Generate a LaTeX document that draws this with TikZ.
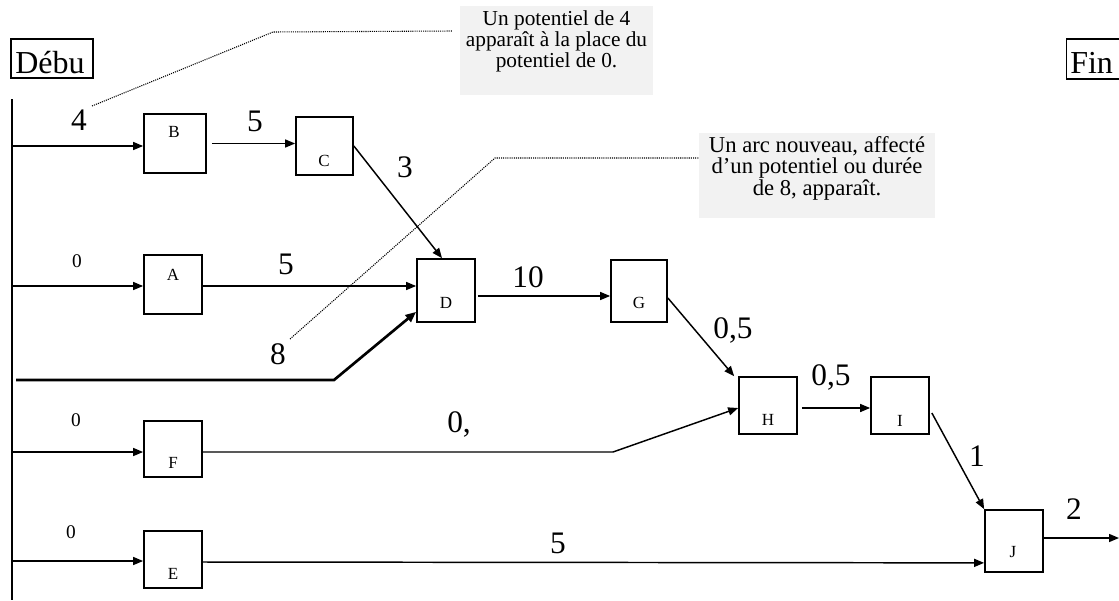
\documentclass[tikz,border=0pt]{standalone}
\usepackage{fontspec}
\setmainfont{Liberation Serif}
\usetikzlibrary{arrows.meta,calc}
\definecolor{notegray}{HTML}{F2F2F2}
\begin{document}
\begin{tikzpicture}[x=0.75pt,y=-0.75pt,
  box/.style={draw, line width=1.3pt, inner sep=0pt, minimum width=43.5pt, minimum height=44pt},
  tag/.style={anchor=base, inner sep=0pt, font=\fontsize{12.75}{14}\selectfont},
  big/.style={anchor=base, inner sep=0pt, font=\fontsize{23.5}{26}\selectfont},
  small/.style={anchor=base, inner sep=0pt, font=\fontsize{14.5}{16}\selectfont},
  arr/.style={line width=1.1pt, -{Triangle[length=7.5pt,width=6pt]}},
  thickarr/.style={line width=2pt, -{Triangle[length=8pt,width=6.5pt]}},
  leader/.style={line width=0.8pt, dash pattern=on 0.8pt off 0.8pt},
  note/.style={fill=notegray, inner sep=0pt},
  notetext/.style={anchor=north, inner sep=0pt, align=center},
  endbox/.style={draw, line width=1.1pt, inner sep=0pt},
  endtext/.style={anchor=base west, inner sep=0pt, font=\fontsize{24}{26}\selectfont}
]
\clip (0,0) rectangle (1119,600);

% start and end markers
\node[endbox, minimum width=61.5pt, minimum height=29.25pt] (start) at (52,58.5) {};
\node[endtext] (starttext) at (15,73) {Débu};
\node[endbox, minimum width=40pt, minimum height=30pt] (finish) at (1093,59) {};
\node[endtext] (finishtext) at (1070,73) {Fin};

% vertical origin rail
\coordinate (railtop) at (12,99);
\coordinate (railbot) at (12,600);
\draw[line width=1.3pt] (railtop) -- (railbot);

% task boxes
\node[box, minimum width=46.5pt, minimum height=44.25pt] (B) at (175,143.5) {};
\node[box, minimum width=42.75pt, minimum height=43.5pt] (C) at (324.5,146) {};
\node[box, minimum width=43.5pt, minimum height=44.25pt] (A) at (173,284.5) {};
\node[box, minimum width=43.5pt, minimum height=47.25pt] (D) at (446,290.5) {};
\node[box, minimum width=42pt, minimum height=46.5pt] (G) at (639,291) {};
\node[box, minimum width=43.5pt, minimum height=42.75pt] (H) at (768,405.5) {};
\node[box, minimum width=43.5pt, minimum height=42.75pt] (I) at (900,405.5) {};
\node[box, minimum width=43.5pt, minimum height=46.5pt] (J) at (1014,541) {};
\node[box, minimum width=43.5pt, minimum height=42pt] (F) at (173,449) {};
\node[box, minimum width=43.5pt, minimum height=42.75pt] (E) at (173,559.5) {};

% task letters
\node[tag] (Bt) at (174,137) {B};
\node[tag] (Ct) at (324,166) {C};
\node[tag] (At) at (173,280) {A};
\node[tag] (Dt) at (446,308) {D};
\node[tag] (Gt) at (639,308) {G};
\node[tag] (Ht) at (768,425) {H};
\node[tag] (It) at (900,426) {I};
\node[tag] (Jt) at (1013,557) {J};
\node[tag] (Ft) at (173,468) {F};
\node[tag] (Et) at (173,579) {E};

% arcs from the rail
\coordinate (railB) at (12,146);
\coordinate (railA) at (12,286);
\coordinate (railF) at (12,452);
\coordinate (railE) at (12,561);
\draw[arr] (railB) -- (B.west |- railB);
\draw[arr] (railA) -- (A.west |- railA);
\draw[arr] (railF) -- (F.west |- railF);
\draw[arr] (railE) -- (E.west |- railE);

% arcs between tasks
\draw[arr] ($(B.east)+(5,0)$) -- (C.west |- B.east);
\draw[arr] (C.east) -- ($(D.north)+(-4,0)$);
\draw[arr] (A.east |- railA) -- (D.west |- railA);
\draw[arr] ($(D.east)+(2,5.5)$) -- ($(G.west)+(0,5)$);
\draw[arr] ($(G.east)+(0,7)$) -- ($(H.north west)+(-4,0)$);
\coordinate (fbend) at (613,452);
\draw[arr] (F.east |- railF) -- (fbend) -- ($(H.west)+(0,2.5)$);
\draw[arr] ($(H.east)+(4,2.5)$) -- ($(I.west)+(0,2.5)$);
\draw[arr] ($(I.east)+(2,7.5)$) -- (J.north west);
\coordinate (out) at (1119,538);
\draw[arr] (J.east |- out) -- (out);
\draw[arr] ($(E.east)+(0,2.5)$) -- ($(J.south west)+(0,-10)$);

% the new arc of duration 8
\coordinate (newstart) at (16,380);
\coordinate (newbend) at (334,380);
\draw[thickarr] (newstart) -- (newbend) -- ($(D.south west)+(0,-11)$);

% durations
\node[big] (l4) at (79,130) {4};
\node[big] (lBC) at (255,131) {5};
\node[big] (lCD) at (405,177) {3};
\node[big] (lAD) at (286,274) {5};
\node[big] (lDG) at (528,287) {10};
\node[big] (l8) at (278,364) {8};
\node[big] (lGH) at (733,338) {0,5};
\node[big] (lHI) at (831,385) {0,5};
\node[big] (lIJ) at (977,466) {1};
\node[big] (lJ) at (1074,519) {2};
\node[big] (lFH) at (459,432) {0,};
\node[big] (lEJ) at (558,553) {5};
\node[small] (l0A) at (77,267) {0};
\node[small] (l0F) at (76,426) {0};
\node[small] (l0E) at (71,538) {0};

% notes and their dotted leaders
\node[note, minimum width=144.75pt, minimum height=66.75pt] (note1) at (556.5,50.5) {};
\node[notetext, font=\fontsize{16}{15.75}\selectfont] (note1text) at (556.5,10.5)
  {Un potentiel de 4\\apparaît à la place du\\potentiel de 0.};
\node[note, minimum width=177pt, minimum height=63.75pt] (note2) at (817,175.5) {};
\node[notetext, font=\fontsize{17}{15.4}\selectfont] (note2text) at (817,136.5)
  {Un arc nouveau, affecté\\d’un potentiel ou durée\\de 8, apparaît.};

\coordinate (lead1a) at (92,106);
\coordinate (lead1b) at (273,32);
\coordinate (lead1c) at (452,31);
\draw[leader] (lead1a) -- (lead1b) -- (lead1c);
\coordinate (lead2a) at (290,339);
\coordinate (lead2b) at (495,158);
\draw[leader] (lead2a) -- (lead2b) -- (note2.west |- lead2b);
\end{tikzpicture}
\end{document}
